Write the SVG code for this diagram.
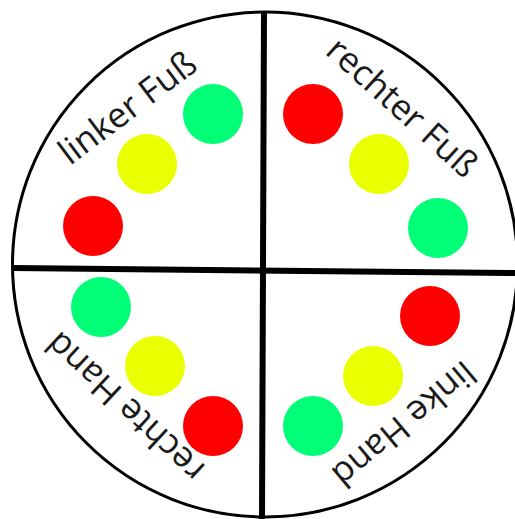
<svg xmlns="http://www.w3.org/2000/svg" width="515" height="519" viewBox="0 0 515 519">
<style>
.lbl{font-family:"Open Sans","Liberation Sans",sans-serif;font-size:35px;fill:#1a1a1a}
.g{fill:#00FF77}.y{fill:#EAFF00}.r{fill:#FF0000}
.ln{stroke:#000;fill:none}
</style>
<rect width="515" height="519" fill="#fff"/>
<g id="connectors">
<circle class="ln" cx="265" cy="264.5" r="252.5" stroke-width="3"/>
<line class="ln" x1="13" y1="268" x2="515" y2="273" stroke-width="6"/>
<line class="ln" x1="264" y1="12" x2="262" y2="519" stroke-width="6"/>
</g>
<g id="linker-fuss">
<text class="lbl" transform="translate(70,166) rotate(-37)">linker Fuß</text>
<circle class="r" cx="93" cy="226" r="30"/>
<circle class="y" cx="147" cy="164" r="30"/>
<circle class="g" cx="213" cy="114" r="30"/>
</g>
<g id="rechter-fuss">
<text class="lbl" transform="translate(324,53) rotate(42)">rechter Fuß</text>
<circle class="r" cx="313" cy="114" r="30"/>
<circle class="y" cx="379" cy="164" r="30"/>
<circle class="g" cx="438" cy="228" r="30"/>
</g>
<g id="rechte-hand">
<text class="lbl" transform="translate(207,467) rotate(223)">rechte Hand</text>
<circle class="g" cx="101" cy="307" r="30"/>
<circle class="y" cx="155" cy="366" r="30"/>
<circle class="r" cx="213" cy="426" r="30"/>
</g>
<g id="linke-hand">
<text class="lbl" transform="translate(463,359) rotate(140)">linke Hand</text>
<circle class="r" cx="430" cy="316" r="30"/>
<circle class="y" cx="373" cy="376" r="30"/>
<circle class="g" cx="313" cy="426" r="30"/>
</g>
</svg>
